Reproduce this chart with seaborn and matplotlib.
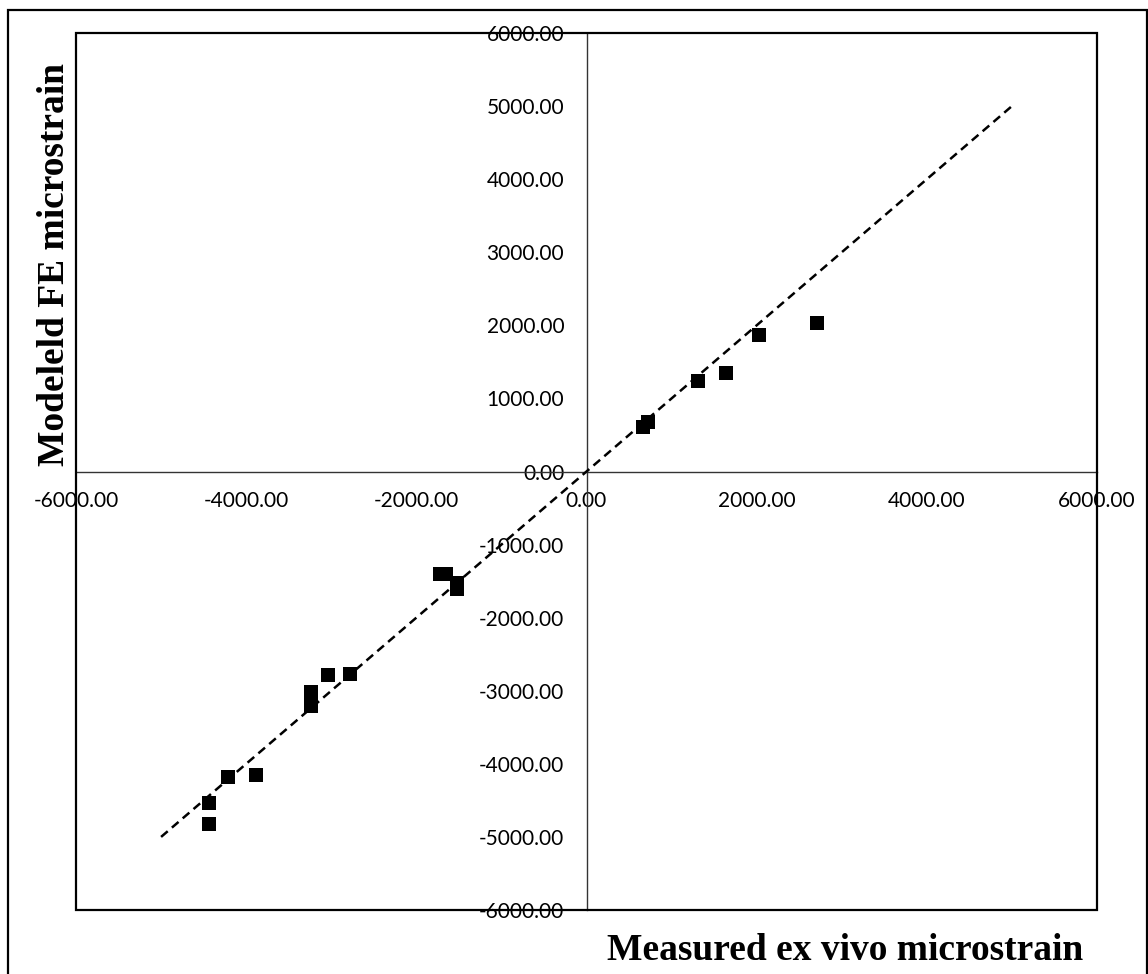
import numpy as np
import pandas as pd
import matplotlib
matplotlib.use("Agg")
import matplotlib.pyplot as plt
from matplotlib.patches import Rectangle
import seaborn as sns

# Measured ex vivo strain vs. modelled FE strain (microstrain)
measured = [-4433, -4433, -4210, -3888, -3240, -3240, -3035, -2780,
            -1725, -1655, -1525, -1525, 668, 727, 1307, 1640, 2031, 2713]
modelled = [-4536, -4824, -4176, -4149, -3017, -3213, -2785, -2775,
            -1400, -1400, -1525, -1610, 613, 681, 1243, 1352, 1868, 2036]

# Line of identity
ref_x = [-5000, 5000]
ref_y = [-5000, 5000]

x_ticks = [-6000, -4000, -2000, 0, 2000, 4000, 6000]
y_ticks = [-6000, -5000, -4000, -3000, -2000, -1000, 0,
           1000, 2000, 3000, 4000, 5000, 6000]

x_title = "Measured ex vivo microstrain"
y_title = "Modeleld FE microstrain"

sns.set_theme(style="white")
plt.rcParams["font.family"] = ["Lato", "DejaVu Sans"]

fig = plt.figure(figsize=(11.48, 9.74), dpi=100)
fig.patch.set_facecolor("white")
ax = fig.add_axes([76 / 1148, 1 - 910 / 974, (1097 - 76) / 1148, (910 - 33) / 974])

df = pd.DataFrame({"measured": measured, "modelled": modelled})
ref = pd.DataFrame({"x": ref_x, "y": ref_y})

sns.lineplot(data=ref, x="x", y="y", ax=ax, color="black", lw=1.8,
             dashes=False, linestyle=(0, (3.5, 2.2)), zorder=3)
sns.scatterplot(data=df, x="measured", y="modelled", ax=ax, marker="s",
                s=105, color="black", edgecolor="none", linewidth=0, zorder=4)

ax.set_xlim(-6000, 6000)
ax.set_ylim(-6000, 6000)
ax.set_xticks(x_ticks)
ax.set_yticks(y_ticks)
ax.set_xticklabels([f"{v:.2f}" for v in x_ticks])
ax.set_yticklabels([f"{v:.2f}" for v in y_ticks])

# Axes cross at the origin; outer box drawn separately
for side in ["top", "right"]:
    ax.spines[side].set_visible(False)
ax.spines["left"].set_position(("data", 0))
ax.spines["bottom"].set_position(("data", 0))
for side in ["left", "bottom"]:
    ax.spines[side].set_color("#333333")
    ax.spines[side].set_linewidth(1.0)
ax.add_patch(Rectangle((0, 0), 1, 1, transform=ax.transAxes, fill=False,
                       edgecolor="black", lw=1.6, zorder=5, clip_on=False))

ax.tick_params(axis="both", length=0, labelsize=15, colors="black")
ax.tick_params(axis="y", pad=16)
ax.tick_params(axis="x", pad=14)
ax.set_xlabel("")
ax.set_ylabel("")
ax.grid(False)

serif = ["Liberation Serif", "DejaVu Serif"]
fig.text(845 / 1148, 1 - 950 / 974, x_title, family=serif, fontweight="bold",
         fontsize=27, color="black", ha="center", va="center")
fig.text(55 / 1148, 1 - 265 / 974, y_title, family=serif, fontweight="bold",
         fontsize=27, color="black", rotation=90, ha="center", va="center")

# Frame around the whole chart
fig.add_artist(Rectangle((8 / 1148, -0.05), (1147 - 8) / 1148, 1.05 - 10 / 974,
                         transform=fig.transFigure, fill=False,
                         edgecolor="black", lw=1.6))

fig.savefig("out.png", dpi=100, facecolor="white")
